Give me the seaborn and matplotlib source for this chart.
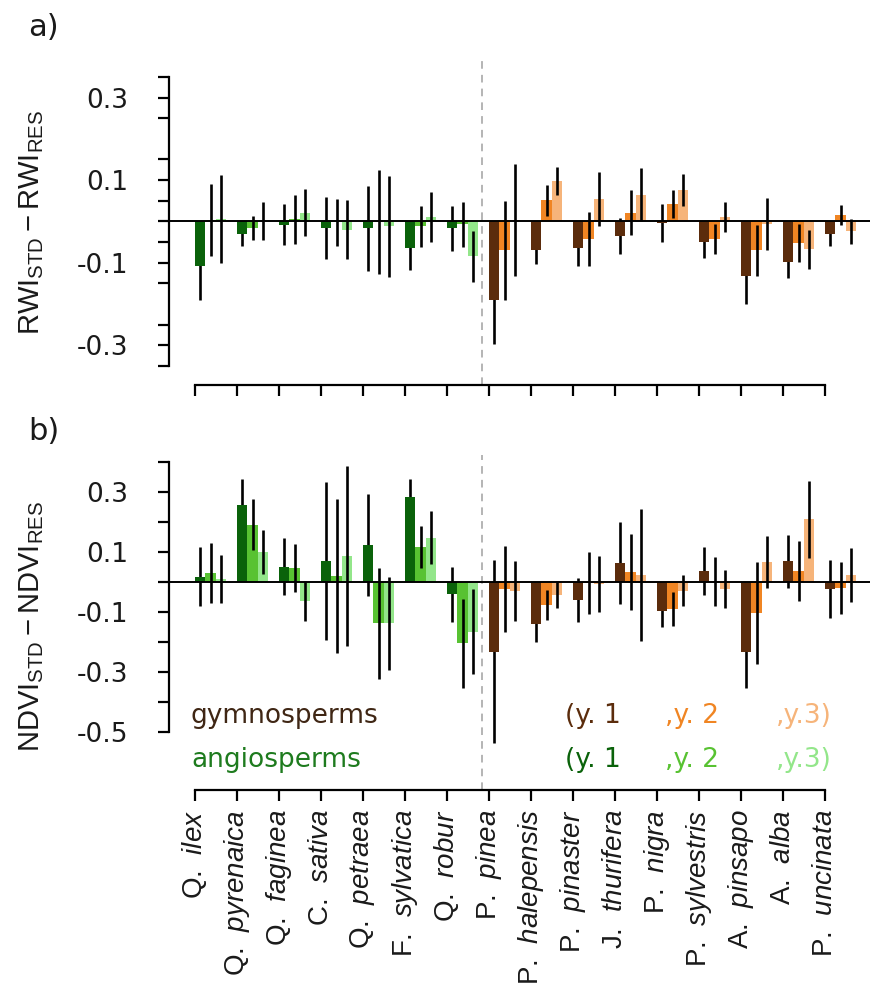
import numpy as np
import pandas as pd
import matplotlib
matplotlib.use("Agg")
import matplotlib.pyplot as plt
import seaborn as sns

# ---------------- data ----------------
angio_species = ["Q. ilex", "Q. pyrenaica", "Q. faginea", "C. sativa",
                 "Q. petraea", "F. sylvatica", "Q. robur"]
gymno_species = ["P. pinea", "P. halepensis", "P. pinaster", "J. thurifera",
                 "P. nigra", "P. sylvestris", "A. pinsapo", "A. alba", "P. uncinata"]
years = ["y1", "y2", "y3"]

# panel a) RWI_STD - RWI_RES
rwi_ang_y1 = [-0.107, -0.031, -0.008, -0.017, -0.017, -0.065, -0.017]
rwi_ang_y2 = [0.004, -0.016, 0.005, -0.002, -0.002, -0.012, -0.007]
rwi_ang_y3 = [0.006, 0.001, 0.021, -0.020, -0.012, 0.011, -0.084]
rwi_ang_e1 = [0.083, 0.028, 0.050, 0.075, 0.103, 0.053, 0.055]
rwi_ang_e2 = [0.087, 0.029, 0.060, 0.057, 0.126, 0.050, 0.055]
rwi_ang_e3 = [0.106, 0.046, 0.057, 0.072, 0.123, 0.060, 0.062]

rwi_gym_y1 = [-0.190, -0.069, -0.065, -0.035, -0.004, -0.049, -0.133, -0.098, -0.031]
rwi_gym_y2 = [-0.070, 0.051, -0.042, 0.021, 0.042, -0.042, -0.070, -0.052, 0.015]
rwi_gym_y3 = [0.004, 0.099, 0.055, 0.065, 0.076, 0.011, -0.006, -0.067, -0.024]
rwi_gym_e1 = [0.107, 0.034, 0.043, 0.043, 0.046, 0.040, 0.067, 0.040, 0.028]
rwi_gym_e2 = [0.120, 0.038, 0.065, 0.055, 0.034, 0.036, 0.062, 0.045, 0.024]
rwi_gym_e3 = [0.135, 0.034, 0.065, 0.064, 0.038, 0.036, 0.062, 0.047, 0.030]

# panel b) NDVI_STD - NDVI_RES
ndvi_ang_y1 = [0.017, 0.256, 0.050, 0.069, 0.122, 0.283, -0.042]
ndvi_ang_y2 = [0.028, 0.189, 0.046, 0.020, -0.138, 0.115, -0.205]
ndvi_ang_y3 = [0.010, 0.100, -0.064, 0.086, -0.138, 0.147, -0.166]
ndvi_ang_e1 = [0.098, 0.085, 0.095, 0.262, 0.170, 0.058, 0.092]
ndvi_ang_e2 = [0.100, 0.085, 0.079, 0.256, 0.185, 0.070, 0.148]
ndvi_ang_e3 = [0.080, 0.073, 0.067, 0.300, 0.155, 0.087, 0.143]

ndvi_gym_y1 = [-0.233, -0.142, -0.062, 0.062, -0.098, 0.036, -0.234, 0.068, -0.025]
ndvi_gym_y2 = [-0.025, -0.078, -0.004, 0.032, -0.092, 0.001, -0.104, 0.036, -0.022]
ndvi_gym_y3 = [-0.030, -0.043, -0.008, 0.023, -0.030, -0.025, 0.066, 0.208, 0.021]
ndvi_gym_e1 = [0.305, 0.060, 0.073, 0.136, 0.053, 0.079, 0.120, 0.089, 0.096]
ndvi_gym_e2 = [0.143, 0.050, 0.103, 0.127, 0.057, 0.082, 0.170, 0.099, 0.086]
ndvi_gym_e3 = [0.100, 0.046, 0.093, 0.220, 0.051, 0.063, 0.086, 0.129, 0.090]

rwi_yticks = [-0.35, -0.3, -0.25, -0.15, -0.1, -0.05, 0, 0.05, 0.1, 0.15, 0.25, 0.3, 0.35]
rwi_ylabels = ["", "-0.3", "", "", "-0.1", "", "", "", "0.1", "", "", "0.3", ""]
ndvi_yticks = [-0.5, -0.4, -0.3, -0.2, -0.1, 0, 0.1, 0.2, 0.3, 0.4]
ndvi_ylabels = ["-0.5", "", "-0.3", "", "-0.1", "", "0.1", "", "0.3", ""]

# ---------------- style ----------------
green_pal = ["#0a620a", "#58c232", "#93e68a"]
brown_pal = ["#5b2c0c", "#f08523", "#f6b47a"]

sns.set_theme(style="white")
plt.rcParams.update({
    "font.family": ["DejaVu Sans"],
    "axes.unicode_minus": False,
    "mathtext.fontset": "custom",
    "mathtext.rm": "Liberation Sans",
    "mathtext.it": "Liberation Sans:italic",
    "mathtext.bf": "Liberation Sans:bold",
    "text.color": "#1a1a1a",
    "xtick.color": "black",
    "ytick.color": "black",
    "xtick.labelcolor": "#1a1a1a",
    "ytick.labelcolor": "#1a1a1a",
})

all_species = angio_species + gymno_species
n = len(all_species)

W, H = 873, 985
fig = plt.figure(figsize=(W / 100, H / 100), dpi=100)


def px_axes(left, right, top, bottom):
    return fig.add_axes([left / W, 1 - bottom / H, (right - left) / W, (bottom - top) / H])


def long_df(species, vals, errs):
    rows = []
    for k, yr in enumerate(years):
        for s, v, e in zip(species, vals[k], errs[k]):
            rows.append({"species": s, "year": yr, "value": v, "err": e})
    return pd.DataFrame(rows)


def draw_panel(ax, ang_vals, ang_errs, gym_vals, gym_errs, ylim, yticks, ylabels, ybounds):
    for species, vals, errs, pal in [(angio_species, ang_vals, ang_errs, green_pal),
                                     (gymno_species, gym_vals, gym_errs, brown_pal)]:
        df = long_df(species, vals, errs)
        sns.barplot(data=df, x="species", y="value", hue="year", order=all_species,
                    hue_order=years, palette=pal, width=0.75, errorbar=None,
                    saturation=1, legend=False, ax=ax, linewidth=0, zorder=2)
        for k, yr in enumerate(years):
            sub = df[df["year"] == yr]
            xpos = np.array([all_species.index(s) for s in sub["species"]]) + (k - 1) * 0.25
            ax.errorbar(xpos, sub["value"], yerr=sub["err"], fmt="none", ecolor="black",
                        elinewidth=1.9, capsize=0, zorder=1.5 if k == 0 else 2.5)
    ax.axhline(0, color="black", lw=1.4, zorder=4)
    ax.axvline(6.455, color="#a0a0a0", lw=1.1, ls=(0, (5, 4)), zorder=0.5)
    ax.set_xlim(-0.994, 15.70)
    ax.set_ylim(*ylim)
    ax.set_xlabel("")
    ax.set_ylabel("")
    for sp in ["top", "right"]:
        ax.spines[sp].set_visible(False)
    for sp in ["left", "bottom"]:
        ax.spines[sp].set_linewidth(1.6)
        ax.spines[sp].set_color("black")
    ax.spines["left"].set_bounds(*ybounds)
    ax.spines["bottom"].set_bounds(-0.375, n - 1 - 0.375)
    ax.set_yticks(yticks, labels=ylabels)
    ax.tick_params(axis="y", direction="out", length=8, width=1.6, color="black",
                   labelsize=19, pad=21, left=True)
    ax.tick_params(axis="x", direction="out", length=8, width=1.6, color="black",
                   bottom=True)
    ax.grid(False)


# panel a
ax1 = px_axes(169, 870, 55, 385)
draw_panel(ax1,
           [rwi_ang_y1, rwi_ang_y2, rwi_ang_y3], [rwi_ang_e1, rwi_ang_e2, rwi_ang_e3],
           [rwi_gym_y1, rwi_gym_y2, rwi_gym_y3], [rwi_gym_e1, rwi_gym_e2, rwi_gym_e3],
           (-0.396, 0.403), rwi_yticks, rwi_ylabels, (-0.35, 0.35))
ax1.set_xticks(np.arange(n) - 0.375, labels=[""] * n)

# panel b
ax2 = px_axes(169, 870, 455, 790)
draw_panel(ax2,
           [ndvi_ang_y1, ndvi_ang_y2, ndvi_ang_y3], [ndvi_ang_e1, ndvi_ang_e2, ndvi_ang_e3],
           [ndvi_gym_y1, ndvi_gym_y2, ndvi_gym_y3], [ndvi_gym_e1, ndvi_gym_e2, ndvi_gym_e3],
           (-0.694, 0.422), ndvi_yticks, ndvi_ylabels, (-0.5, 0.4))


def fmt_label(s):
    genus, epithet = s.split(" ")
    return genus + "  $\\mathit{" + epithet + "}$"


ax2.set_xticks(np.arange(n) - 0.375, labels=[fmt_label(s) for s in all_species])
for lab in ax2.get_xticklabels():
    lab.set_rotation(90)
    lab.set_fontsize(20)
    lab.set_family("Liberation Sans")
ax2.tick_params(axis="x", pad=6)

# axis titles
fig.text(32 / W, 1 - 222 / H, r"$\mathrm{RWI}_{\mathrm{STD}} - \mathrm{RWI}_{\mathrm{RES}}$",
         rotation=90, ha="center", va="center", fontsize=21)
fig.text(32 / W, 1 - 626 / H, r"$\mathrm{NDVI}_{\mathrm{STD}} - \mathrm{NDVI}_{\mathrm{RES}}$",
         rotation=90, ha="center", va="center", fontsize=21)

# panel letters
fig.text(28 / W, 1 - 27 / H, "a)", ha="left", va="center", fontsize=22)
fig.text(28 / W, 1 - 432 / H, "b)", ha="left", va="center", fontsize=22)

# legend texts
leg_y1, leg_y2 = 716, 760
fig.text(191 / W, 1 - leg_y1 / H, "gymnosperms", ha="left", va="center", fontsize=19,
         color="#3f2614")
fig.text(191 / W, 1 - leg_y2 / H, "angiosperms", ha="left", va="center", fontsize=19,
         color="#1e7b1e")
for txt, x, col in [("(y. 1", 565, brown_pal[0]), (",y. 2", 665, brown_pal[1]),
                    (",y.3)", 776, brown_pal[2])]:
    fig.text(x / W, 1 - leg_y1 / H, txt, ha="left", va="center", fontsize=19, color=col)
for txt, x, col in [("(y. 1", 565, green_pal[0]), (",y. 2", 665, green_pal[1]),
                    (",y.3)", 776, green_pal[2])]:
    fig.text(x / W, 1 - leg_y2 / H, txt, ha="left", va="center", fontsize=19, color=col)

fig.savefig("out.png", dpi=100, facecolor="white")
